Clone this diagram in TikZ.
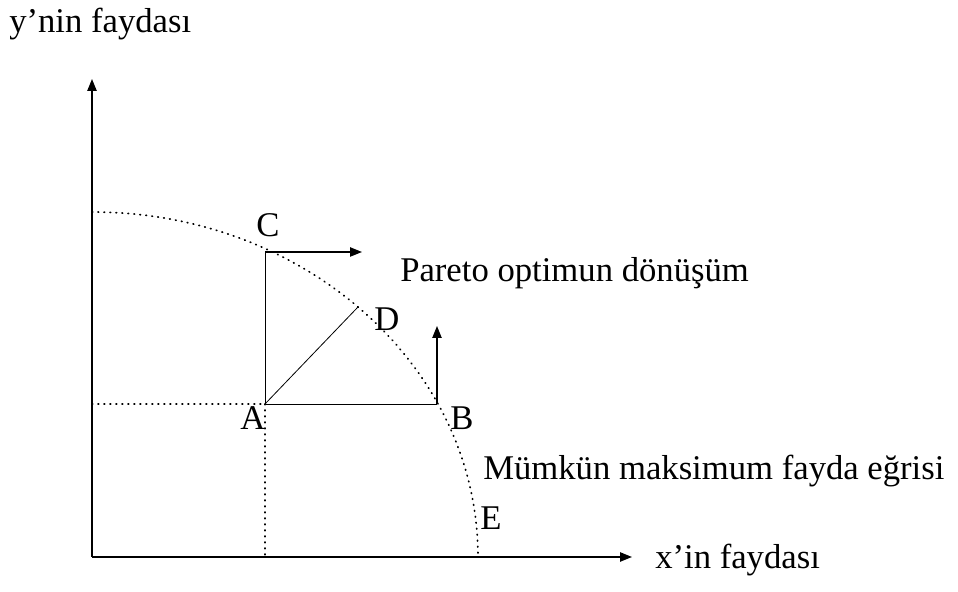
\documentclass[tikz,border=0pt]{standalone}
\usepackage{fontspec}
\setmainfont{Liberation Serif}
\usepackage{tikz}
\usetikzlibrary{arrows.meta, calc}
\tikzstyle{axis} = [line width=1.1pt, -{Triangle[length=9pt, width=7pt]}]
\tikzstyle{movearrow} = [line width=1pt, -{Triangle[length=9pt, width=7pt]}]
\tikzstyle{thinline} = [line width=0.6pt]
\tikzstyle{guide} = [line width=1.3pt, line cap=round, dash pattern=on 0.5pt off 4pt]
\tikzstyle{lbl} = [font=\fontsize{26}{30}\selectfont, inner sep=0pt]

\begin{document}
\begin{tikzpicture}[x=0.75pt, y=0.75pt]
    \useasboundingbox (0,0) rectangle (958,592);
    % axes and points
    \coordinate (O) at (92,35);
    \coordinate (ytop) at (92,513);
    \coordinate (xend) at (632,35);
    \coordinate (A) at (265,188);
    \coordinate (B) at (437,188);
    \coordinate (C) at (265,340);
    \coordinate (D) at (358,285);
    \coordinate (E) at (478,35);
    \coordinate (yA) at (92,188);
    \coordinate (xA) at (265,35);
    \coordinate (Cend) at (362,340);
    \coordinate (Bend) at (437,266);

    \draw[axis] (O) -- (ytop);
    \draw[axis] (O) -- (xend);

    % possible maximum utility curve
    \draw[guide] (92,380) arc[start angle=90, end angle=0, x radius=386, y radius=345];
    \draw[guide] (yA) -- (A);
    \draw[guide] (A) -- (xA);

    \draw[thinline] (A) -- (C);
    \draw[thinline] (A) -- (B);
    \draw[thinline] (A) -- (D);
    \draw[movearrow] (C) -- (Cend);
    \draw[movearrow] (B) -- (Bend);

    \node[lbl, anchor=base west] (ylabel) at (9,559) {y’nin faydası};
    \node[lbl, anchor=base west] (xlabel) at (655,23) {x’in faydası};
    \node[lbl, anchor=base] (lblC) at (268,355) {C};
    \node[lbl, anchor=base] (lblD) at (387,261) {D};
    \node[lbl, anchor=base] (lblA) at (253,162) {A};
    \node[lbl, anchor=base] (lblB) at (462,162) {B};
    \node[lbl, anchor=base] (lblE) at (491,62) {E};
    \node[lbl, anchor=base west] (pareto) at (400,310) {Pareto optimun dönüşüm};
    \node[lbl, anchor=base west] (curve) at (483,112) {Mümkün maksimum fayda eğrisi};
\end{tikzpicture}
\end{document}
